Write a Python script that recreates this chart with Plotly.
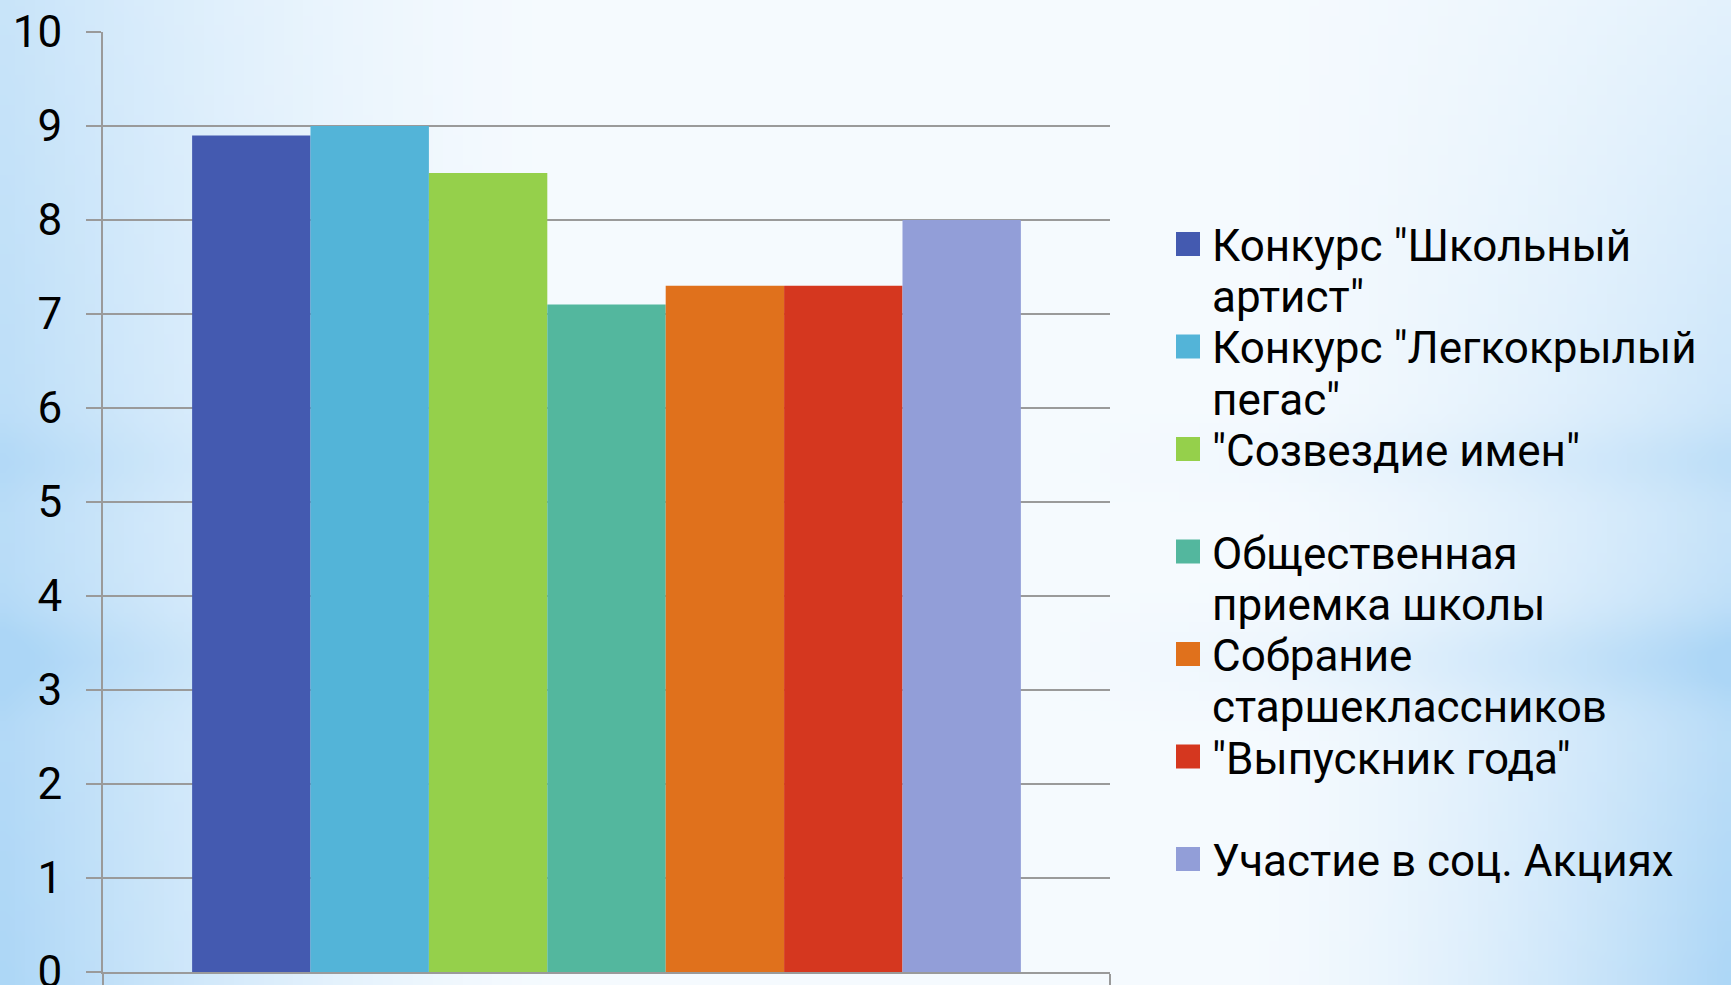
import base64
import math
import struct
import zlib

import plotly.graph_objects as go

# ---------------- data ----------------
series_names = [
    'Конкурс "Школьный артист"',
    'Конкурс "Легкокрылый пегас"',
    '"Созвездие имен"',
    'Общественная приемка школы',
    'Собрание старшеклассников',
    '"Выпускник года"',
    'Участие в соц. Акциях',
]
# legend lines as they wrap in the reference
legend_lines = [
    ['Конкурс "Школьный', 'артист"'],
    ['Конкурс "Легкокрылый', 'пегас"'],
    ['"Созвездие имен"'],
    ['Общественная', 'приемка школы'],
    ['Собрание', 'старшеклассников'],
    ['"Выпускник года"'],
    ['Участие в соц. Акциях'],
]
series_values = [8.9, 9.0, 8.5, 7.1, 7.3, 7.3, 8.0]
series_colors = ['#445AB0', '#53B4D8', '#95D04B', '#53B79E', '#E0711C', '#D5371F', '#929ED8']
y_ticks = [0, 1, 2, 3, 4, 5, 6, 7, 8, 9, 10]

# ---------------- geometry ----------------
W, H = 1731, 985
PX_L, PX_R = 103, 1110      # plot area (pixels)
PY_T, PY_B = 32, 972
FONT = 'Roboto'


def fx(px):
    return px / W


def fy(py):
    return 1 - py / H


# ---------------- background (soft blue gradient png) ----------------
def make_bg(w=174, h=99):
    C = (245, 250, 254)
    B = (172, 214, 246)
    rows = []
    for j in range(h):
        y = (j + 0.5) / h * H
        row = bytearray()
        for i in range(w):
            x = (i + 0.5) / w * W
            wl = max(0.0, 1 - x / 560) ** 1.6 * (0.62 + 0.38 * y / H)
            wr = max(0.0, (x - 1250) / 481) ** 1.5 * (0.25 + 0.75 * y / H)
            side = max(0.0, 1 - x / 420) + max(0.0, (x - 1050) / 500)
            band = 0.22 * math.exp(-((y - 660) / 45) ** 2) + 0.12 * math.exp(-((y - 460) / 35) ** 2)
            t = min(1.0, wl + wr + band * side)
            row += bytes(int(round(C[k] * (1 - t) + B[k] * t)) for k in range(3))
        rows.append(bytes(row))
    raw = b''.join(b'\x00' + r for r in rows)

    def chunk(tag, data):
        c = struct.pack('>I', len(data)) + tag + data
        return c + struct.pack('>I', zlib.crc32(tag + data) & 0xffffffff)

    png = b'\x89PNG\r\n\x1a\n'
    png += chunk(b'IHDR', struct.pack('>IIBBBBB', w, h, 8, 2, 0, 0, 0))
    png += chunk(b'IDAT', zlib.compress(raw, 9))
    png += chunk(b'IEND', b'')
    return 'data:image/png;base64,' + base64.b64encode(png).decode()


fig = go.Figure()
for name, val, col in zip(series_names, series_values, series_colors):
    fig.add_trace(go.Bar(x=[0], y=[val], name=name, marker=dict(color=col, line=dict(width=0)),
                         showlegend=False))

# ---------------- manual legend ----------------
LEG_Y0, LEG_STEP = 244, 102.5
LINE_STEP = LEG_STEP / 2
SQ = 24
for i, (lines, col) in enumerate(zip(legend_lines, series_colors)):
    cy = LEG_Y0 + LEG_STEP * i
    fig.add_shape(type='rect', xref='paper', yref='paper',
                  x0=fx(1176), x1=fx(1176 + SQ), y0=fy(cy - SQ / 2), y1=fy(cy + SQ / 2),
                  fillcolor=col, line=dict(width=0))
    for k, line in enumerate(lines):
        fig.add_annotation(text=line, xref='paper', yref='paper', x=fx(1211), y=fy(cy + LINE_STEP * k + 2),
                           xanchor='left', yanchor='middle', showarrow=False, borderpad=0,
                           font=dict(family=FONT, size=44, color='black'))

fig.update_layout(
    width=W, height=H,
    margin=dict(l=0, r=0, t=0, b=0),
    template='none',
    paper_bgcolor='white',
    plot_bgcolor='rgba(0,0,0,0)',
    barmode='group', bargap=0.177, bargroupgap=0,
    showlegend=False,
    images=[dict(source=make_bg(), xref='paper', yref='paper', x=0, y=1, sizex=1, sizey=1,
                 xanchor='left', yanchor='top', sizing='stretch', layer='below')],
    xaxis=dict(domain=[fx(PX_L), fx(PX_R)], range=[-0.5, 0.5], tickvals=[-0.5, 0.5],
               showticklabels=False, ticks='outside', ticklen=16, tickwidth=2, tickcolor='#9a9a9a',
               showline=True, linecolor='#9a9a9a', linewidth=2, showgrid=False, zeroline=False,
               automargin=False, fixedrange=True),
    yaxis=dict(domain=[fy(PY_B), fy(PY_T)], range=[0, 10], tickvals=y_ticks,
               ticks='outside', ticklen=15, tickwidth=2, tickcolor='#9a9a9a',
               showline=True, linecolor='#9a9a9a', linewidth=2,
               showgrid=True, gridcolor='#9a9a9a', gridwidth=2, zeroline=False,
               tickfont=dict(family=FONT, size=44, color='black'), ticklabelstandoff=15,
               ticklabeloverflow='allow',
               automargin=False, fixedrange=True),
)

fig.write_html('out.html', config={'displayModeBar': False},
               post_script="document.body.style.margin='0';")
